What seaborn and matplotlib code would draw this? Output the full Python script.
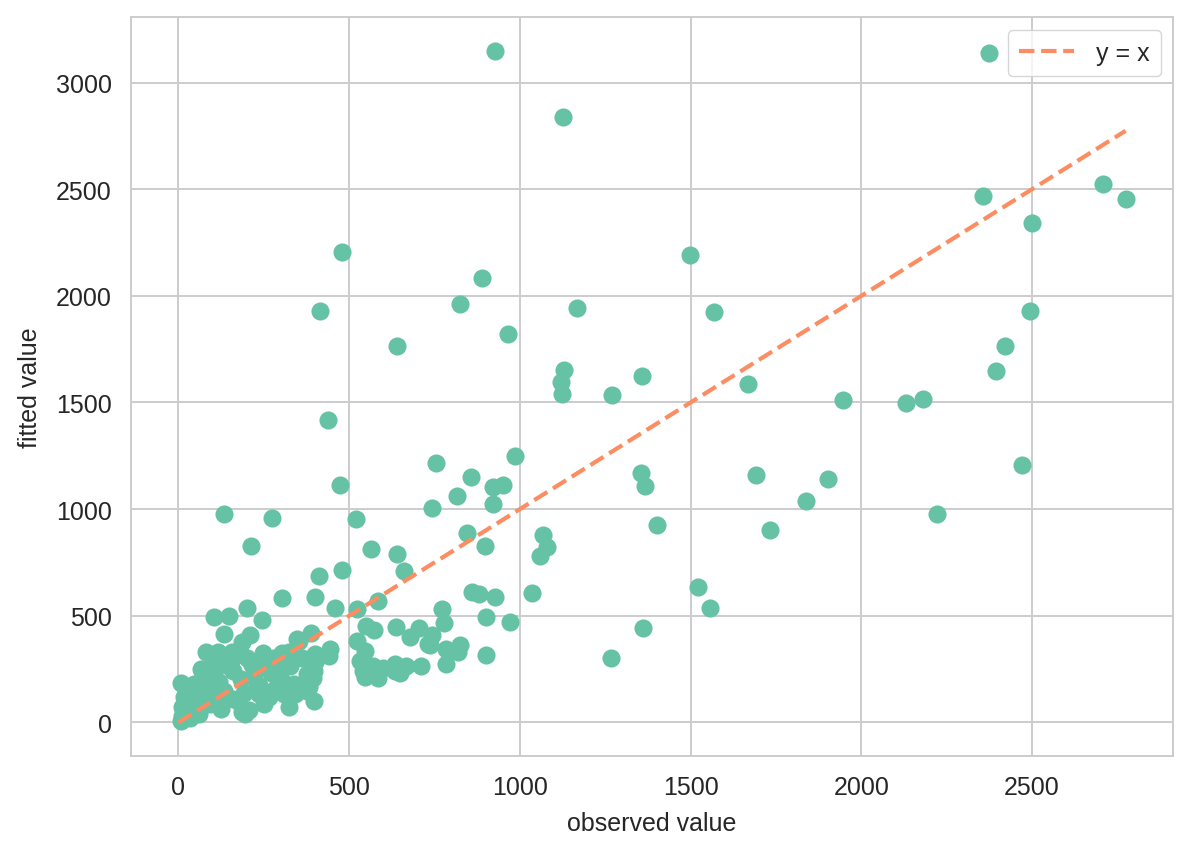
import matplotlib
matplotlib.use("Agg")
import matplotlib.pyplot as plt
import seaborn as sns
import numpy as np

# observed (x) and fitted (y) values
observed = [
    928, 2374, 1127, 2707, 2774, 2356, 2501, 2494, 2421, 2395, 2470, 2223, 2182, 2131, 1945,
    1902, 1839, 1734, 1693, 1668, 1569, 1499, 1522, 1556, 1362, 1267, 1270, 1358, 1355, 1367,
    1401, 1168, 1130, 1121, 1124,
    888, 826, 966, 639, 480, 415, 439,
    474, 754, 742, 815, 134, 274, 520, 214, 564, 640, 661, 480, 412, 304, 401, 586,
    985, 858, 920, 951, 920, 844, 899, 1069, 1080, 1060, 861, 881, 926, 1036, 772, 778, 900,
    970, 824, 819, 900, 785, 785,
    523, 460,
    549, 574, 636, 678, 705, 742, 737, 523, 547, 532, 542, 547, 584, 571, 635, 649, 667, 635,
    600, 712, 732,
    445, 347, 388, 323, 362, 401, 397, 382, 343, 323, 304, 304, 352, 377, 338, 377, 309, 328,
    289, 396, 400, 395, 440,
    104, 148, 201, 245, 133, 210, 187, 82, 116, 158, 248, 7, 65, 104, 153, 201, 260, 182, 221,
    240, 192, 133, 75, 26, 12, 12, 7, 60, 177, 196, 250, 46, 94, 17, 124, 208, 265, 236, 70,
    187,
    30, 45, 85, 120, 160, 230, 280, 270, 215, 140, 100, 50, 20, 35, 110, 160, 300, 280, 180,
]
fitted = [
    3150, 3140, 2837, 2523, 2452, 2466, 2341, 1927, 1763, 1646, 1205, 978, 1517, 1498, 1511,
    1142, 1038, 902, 1160, 1587, 1924, 2190, 635, 538, 445, 304, 1536, 1626, 1170, 1108,
    926, 1943, 1653, 1596, 1540,
    2083, 1962, 1821, 1765, 2205, 1930, 1417,
    1113, 1216, 1007, 1060, 978, 958, 954, 827, 813, 791, 712, 716, 688, 582, 586, 567,
    1248, 1152, 1106, 1111, 1024, 890, 827, 879, 824, 782, 610, 601, 588, 605, 530, 468, 496,
    473, 364, 328, 317, 343, 273,
    534, 535,
    453, 432, 448, 401, 445, 410, 364, 382, 336, 289, 242, 215, 206, 265, 273, 234, 265, 242,
    257, 265, 367,
    345, 390, 417, 328, 304, 320, 242, 164, 133, 70, 195, 326, 382, 226, 179, 148, 133, 265,
    211, 102, 285, 210, 312,
    496, 500, 538, 478, 415, 408, 378, 328, 332, 328, 326, 187, 250, 218, 289, 304, 273, 203, 226,
    164, 140, 148, 125, 133, 70, 31, 8, 39, 94, 39, 86, 179, 86, 117, 62, 58, 117, 133, 242,
    47,
    95, 60, 170, 190, 240, 180, 150, 230, 270, 270, 290, 150, 50, 20, 120, 110, 250, 300, 330,
]

sns.set_theme(style="whitegrid", palette="Set2")
plt.rcParams['font.family'] = ['Liberation Sans', 'DejaVu Sans']
plt.rcParams.update({
    'font.size': 18,
    'axes.labelsize': 18,
    'xtick.labelsize': 18,
    'ytick.labelsize': 18,
    'legend.fontsize': 18,
    'grid.color': '#cccccc',
    'grid.linewidth': 1.4,
    'axes.edgecolor': '#cccccc',
    'axes.linewidth': 1.4,
    'xtick.major.size': 0,
    'ytick.major.size': 0,
    'xtick.major.pad': 14,
    'ytick.major.pad': 14,
    'text.color': '#262626',
    'axes.labelcolor': '#262626',
    'xtick.color': '#262626',
    'ytick.color': '#262626',
})

pal = sns.color_palette("Set2")
fig = plt.figure(figsize=(11.92, 8.54), dpi=100)
ax = fig.add_axes([131/1192, 1 - 757/854, (1173 - 131)/1192, (757 - 18)/854])

sns.scatterplot(x=observed, y=fitted, s=170, linewidth=0, color=pal[0], ax=ax, zorder=3)
mx = max(observed)
ax.plot([0, mx], [0, mx], linestyle='--', color=pal[1], linewidth=3.0, label='y = x', zorder=4)

ax.set_xticks([0, 500, 1000, 1500, 2000, 2500])
ax.set_yticks([0, 500, 1000, 1500, 2000, 2500, 3000])
ax.set_xlabel('observed value', labelpad=8)
ax.set_ylabel('fitted value', labelpad=10)
ax.legend(loc='upper right', handlelength=2.2, handletextpad=0.85, borderpad=0.45)

fig.savefig('out.png', dpi=100)
